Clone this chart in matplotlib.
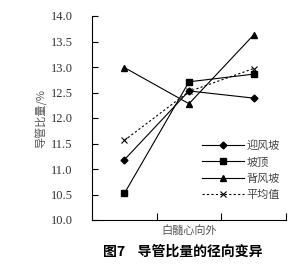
import matplotlib
matplotlib.use("Agg")
import matplotlib.pyplot as plt

plt.rcParams['font.family'] = ['Liberation Serif', 'Noto Sans CJK SC']

positions = [0.5, 1.5, 2.5]
windward = [11.18, 12.53, 12.39]
top = [10.52, 12.71, 12.86]
leeward = [12.99, 12.28, 13.63]
mean = [11.56, 12.52, 12.97]
labels = ['迎风坡', '坡顶', '背风坡', '平均值']
y_ticks = [10.0, 10.5, 11.0, 11.5, 12.0, 12.5, 13.0, 13.5, 14.0]

fig = plt.figure(figsize=(3.0, 2.66), dpi=100)
ax = fig.add_axes([92 / 300, 46 / 266, 194 / 300, 204 / 266])

ax.plot(positions, windward, color='black', lw=0.8, marker='D', ms=3.5, label=labels[0])
ax.plot(positions, top, color='black', lw=0.8, marker='s', ms=5, label=labels[1])
ax.plot(positions, leeward, color='black', lw=0.8, marker='^', ms=5, label=labels[2])
ax.plot(positions, mean, color='black', lw=0.8, ls=(0, (2, 2)), marker='x', ms=5,
        mew=0.8, label=labels[3])

ax.set_xlim(0, 3)
ax.set_ylim(10.0, 14.0)
ax.set_yticks(y_ticks)
ax.set_yticklabels([f'{v:.1f}' for v in y_ticks], fontsize=9, color='#333333')
ax.set_xticks([1, 2, 3])
ax.set_xticklabels([])
ax.tick_params(axis='y', direction='in', length=4, width=0.8, pad=14)
ax.tick_params(axis='x', direction='in', length=5, width=0.8, pad=0)
for s in ['top', 'right']:
    ax.spines[s].set_visible(False)
for s in ['left', 'bottom']:
    ax.spines[s].set_linewidth(0.8)

ax.set_ylabel('导管比量/%', fontsize=8, color='#555555',
              family=['Noto Sans CJK SC'], labelpad=2)
ax.set_xlabel('白髓心向外', fontsize=8, color='#555555',
              family=['Noto Sans CJK SC'], labelpad=4)

leg = ax.legend(loc='lower right', bbox_to_anchor=(1.02, 0.05), frameon=False,
                prop={'family': 'Noto Sans CJK SC', 'size': 8},
                handlelength=3.8, handletextpad=0.2, labelspacing=0.55)
for t in leg.get_texts():
    t.set_color('#444444')

fig.text(0.61, 0.053, '图7    导管比量的径向变异', ha='center', va='center',
         fontsize=10, fontweight='bold', family=['Noto Sans CJK SC'])

fig.savefig('out.png', dpi=100)
